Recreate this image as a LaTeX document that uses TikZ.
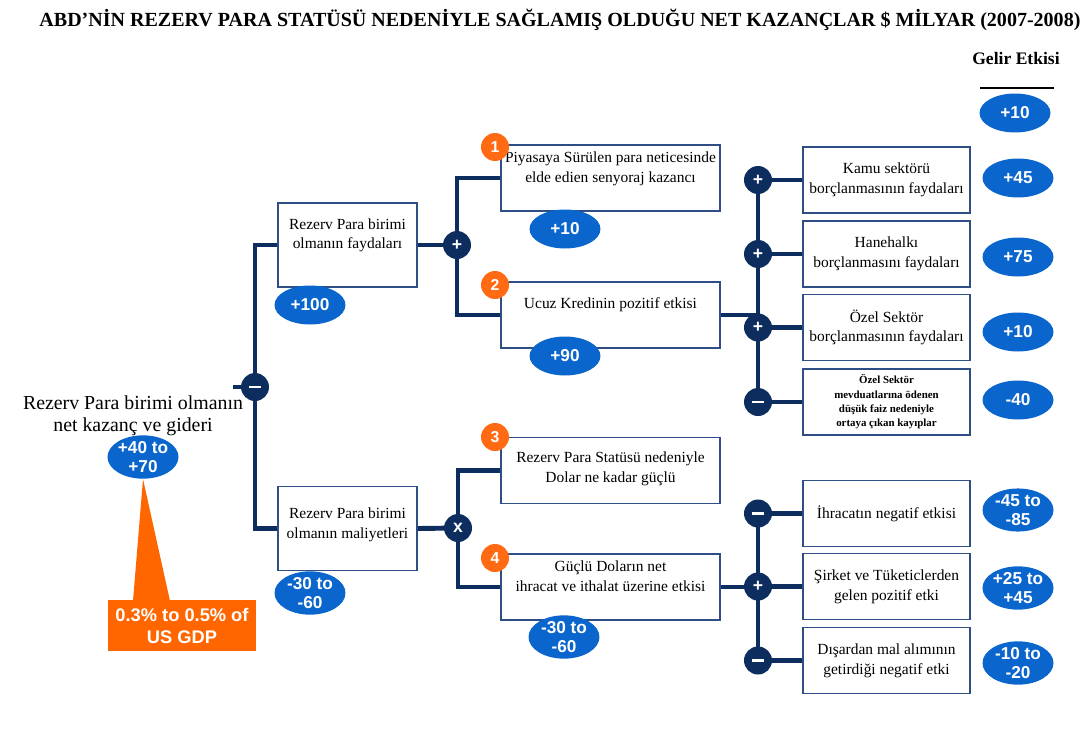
\documentclass[tikz,border=0pt]{standalone}
\usepackage{fontspec}
\setmainfont{Liberation Serif}
\setsansfont{Liberation Sans}
\usetikzlibrary{positioning,shapes.geometric,backgrounds}

\definecolor{navy}{HTML}{0E2D5F}
\definecolor{boxline}{HTML}{2F4E85}
\definecolor{valblue}{HTML}{0A66CC}
\definecolor{gdporange}{HTML}{FF6600}
\definecolor{badgeorange}{HTML}{FF6A13}

\newcommand{\opminus}{\rule{7pt}{1.3pt}}

\begin{document}
\begin{tikzpicture}[x=0.02cm,y=-0.02cm,
    link/.style={navy,line width=2.8pt},
    lbox/.style={draw=boxline,line width=0.8pt,fill=white,minimum width=2.78cm,minimum height=1.68cm},
    mbox/.style={lbox,minimum width=4.38cm,minimum height=1.32cm},
    rbox/.style={lbox,minimum width=3.34cm,minimum height=1.32cm,align=center,inner sep=1pt,font=\fontsize{8.8}{11.2}\selectfont},
    txt/.style={align=center,inner sep=0pt,font=\fontsize{8.8}{11.2}\selectfont},
    val/.style={ellipse,fill=valblue,text=white,inner sep=0pt,minimum width=1.42cm,minimum height=0.78cm,align=center,font=\sffamily\bfseries\fontsize{9.8}{10.5}\selectfont},
    op/.style={circle,fill=navy,text=white,inner sep=0pt,minimum size=0.56cm,font=\sffamily\bfseries\fontsize{10}{10}\selectfont},
    badge/.style={op,fill=badgeorange,font=\sffamily\bfseries\fontsize{9}{9}\selectfont}]
    \useasboundingbox (0,0) rectangle (1089,734);

    % heading
    \node[font=\bfseries\fontsize{11.4}{13}\selectfont] (title) at (560,20) {ABD’NİN REZERV PARA STATÜSÜ NEDENİYLE SAĞLAMIŞ OLDUĞU NET KAZANÇLAR \$ MİLYAR (2007-2008)};
    \node[font=\bfseries\fontsize{10}{12}\selectfont] (gelir) at (1016,58) {Gelir Etkisi};
    \draw[line width=0.9pt] (980,88) -- (1054,88);
    \node[val] (vgelir) at (1015,113) {+10};

    % left side
    \node[align=center,font=\fontsize{11.3}{12.6}\selectfont] (net) at (133,416) {Rezerv Para birimi olmanın\\net kazanç ve gideri};
    \node[val] (vnet) at (143,457) {+40 to\\+70};
    \node[fill=gdporange,text=white,align=center,minimum width=2.96cm,minimum height=1.02cm,inner sep=0pt,
          font=\sffamily\bfseries\fontsize{10.4}{12.5}\selectfont] (gdp) at (182,625.5) {0.3\% to 0.5\% of\\US GDP};
    \fill[gdporange] (vnet.south) -- (133,601) -- (170,601) -- cycle;

    \node[op] (m0) at (255,387) {\opminus};
    \coordinate (stub) at (233,387);
    \node[op] (c1) at (457,245) {+};
    \node[op] (c3) at (458,528) {x};

    \node[lbox] (fay) at (347.5,245) {};
    \node[lbox] (mal) at (347.5,528.5) {};
    \node[txt,below=9pt of fay.north] (fayt) {Rezerv Para birimi\\olmanın faydaları};
    \node[txt,below=12.5pt of mal.north] (malt) {Rezerv Para birimi\\olmanın maliyetleri};
    \node[val] (vfay) at (310,305) {+100};
    \node[val] (vmal) at (310,593) {-30 to\\-60};

    % middle column
    \foreach \nm/\y in {b1/178, b2/315, b3/470.5, b4/587}
        \node[mbox] (\nm) at (610.5,\y) {};
    \node[txt,below=4pt of b1.north] (t1) {Piyasaya Sürülen para neticesinde\\elde edien senyoraj kazancı};
    \node[txt,below=9pt of b2.north] (t2) {Ucuz Kredinin pozitif etkisi};
    \node[txt,below=8.5pt of b3.north] (t3) {Rezerv Para Statüsü nedeniyle\\Dolar ne kadar güçlü};
    \node[txt,below=4pt of b4.north] (t4) {Güçlü Doların net\\ihracat ve ithalat üzerine etkisi};
    \foreach \n/\y in {1/147, 2/285, 3/437, 4/558}
        \node[badge] (n\n) at (495,\y) {\n};
    \node[val] (v1) at (565,229) {+10};
    \node[val] (v2) at (565,356) {+90};
    \node[val] (v4) at (564,637) {-30 to\\-60};

    % right column
    \foreach \nm/\y/\sg/\txt in {kamu/180/+/{Kamu sektörü\\borçlanmasının faydaları},
                                hane/254/+/{Hanehalkı\\borçlanmasını faydaları},
                                ozel/327.5/+/{Özel Sektör\\borçlanmasının faydaları},
                                ihr/513.5/\opminus/{İhracatın negatif etkisi},
                                firma/586.5/+/{Şirket ve Tüketiclerden\\gelen pozitif etki},
                                dis/660.5/\opminus/{Dışardan mal alımının\\getirdiği negatif etki}}
    {
        \node[rbox] (\nm) at (886.5,\y) {\txt};
        \node[op] (p\nm) at (758,\y) {\sg};
    }
    \node[rbox,font=\bfseries\fontsize{6.2}{8.2}\selectfont] (dusuk) at (886.5,402) {Özel Sektör\\mevduatlarına ödenen\\düşük faiz nedeniyle\\ortaya çıkan kayıplar};
    \node[op] (pdusuk) at (758,402) {\opminus};
    \foreach \nm/\y/\v in {kamu/178/+45, hane/257/+75, ozel/332/+10, dusuk/400/-40,
                           ihr/510/{-45 to\\-85}, firma/588/{+25 to\\+45}, dis/663/{-10 to\\-20}}
        \node[val] (v\nm) at (1018,\y) {\v};

    % connectors
    \begin{scope}[on background layer]
        \draw[link] (stub) -- (m0.center);
        \draw[link] (fay.west) -| (m0.center) |- (mal.west);
        \draw[link] (fay.east) -- (c1.center);
        \draw[link] (b1.west) -| (c1.center) |- (b2.west);
        \draw[link] (mal.east) -- (c3.center);
        \draw[link] (b3.west) -| (c3.center) |- (b4.west);
        \draw[link] (pkamu.center) -- (pdusuk.center);
        \draw[link] (pihr.center) -- (pdis.center);
        \draw[link] (b2.east) -- (b2.east -| pozel.center);
        \draw[link] (b4.east) -- (b4.east -| pfirma.center);
        \foreach \nm in {kamu,hane,ozel,dusuk,ihr,firma,dis}
            \draw[link] (p\nm.center) -- (\nm.west);
    \end{scope}
\end{tikzpicture}
\end{document}
